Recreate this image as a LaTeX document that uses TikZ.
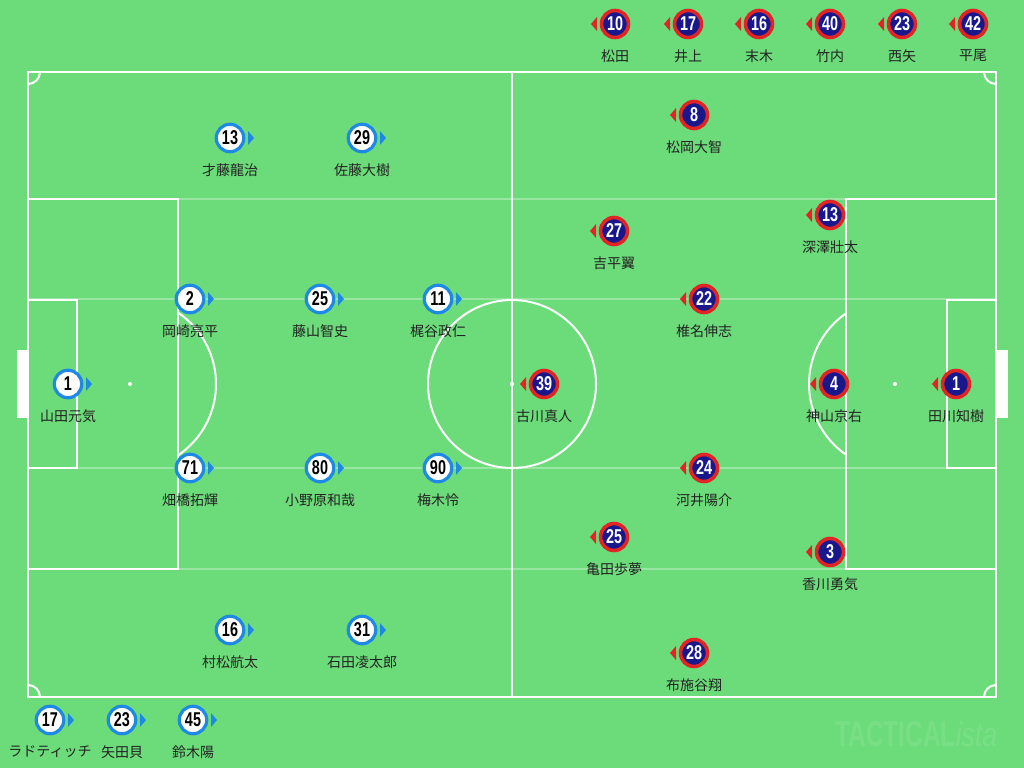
\documentclass[tikz,border=0pt]{standalone}
\usepackage{fontspec}
\usetikzlibrary{calc}
\newfontfamily\jpfont{Noto Sans CJK JP}
\newfontfamily\numfont[FakeStretch=0.72]{Liberation Sans Bold}
\newfontfamily\wmfont[FakeStretch=0.68]{Liberation Sans Bold}
\newfontfamily\wmitfont[FakeStretch=0.78]{Liberation Sans Italic}
\definecolor{grass}{RGB}{108,220,122}
\definecolor{bluec}{RGB}{30,136,229}
\definecolor{navyc}{RGB}{24,24,140}
\definecolor{redc}{RGB}{226,36,36}
\definecolor{lblc}{RGB}{34,34,34}
\tikzset{
  pline/.style={white, line width=2pt},
  lane/.style={white, opacity=0.3, line width=1.5pt},
  bp/.style={circle, fill=white, draw=bluec, line width=3.2pt, minimum size=27.5pt, inner sep=0pt, font=\numfont\fontsize{20}{20}\selectfont, text=black},
  rp/.style={circle, fill=navyc, draw=redc, line width=3.6pt, minimum size=27pt, inner sep=0pt, font=\numfont\fontsize{20}{20}\selectfont, text=white},
  lbl/.style={font=\jpfont\fontsize{14}{14}\selectfont, text=lblc, inner sep=0pt},
}
\newcommand\bpl[5]{%
  \node[bp] (#1) at (#2,#3) {#4};
  \fill[bluec] ($(#1.center)+(18,-7)$) -- ($(#1.center)+(24,0)$) -- ($(#1.center)+(18,7)$) -- cycle;
  \node[lbl] (#1-l) at (#2,#3+32) {#5};}
\newcommand\rpl[5]{%
  \node[rp] (#1) at (#2,#3) {#4};
  \fill[redc] ($(#1.center)+(-18,-7)$) -- ($(#1.center)+(-24,0)$) -- ($(#1.center)+(-18,7)$) -- cycle;
  \node[lbl] (#1-l) at (#2,#3+32) {#5};}
\begin{document}
\begin{tikzpicture}[x=1pt,y=-1pt]
\fill[grass] (0,0) rectangle (1024,768);
\useasboundingbox (0,0) rectangle (1024,768);
% watermark
\node[anchor=base west, inner sep=0pt, text=white, opacity=0.09] (wm) at (835,746) {\wmfont\fontsize{36}{36}\selectfont TACTICAL\wmitfont\fontsize{34}{34}\selectfont ista};
% lanes
\foreach \yy in {199,299,468,569} \draw[lane] (28,\yy) -- (996,\yy);
% pitch
\draw[pline] (28,72) rectangle (996,697);
\draw[pline] (512,72) -- (512,697);
\draw[pline] (512,384) circle (84);
\fill[white] (512,384) circle (2);
\draw[pline] (28,199) rectangle (178,569);
\draw[pline] (28,300) rectangle (77,468);
\draw[pline] (996,199) rectangle (846,569);
\draw[pline] (996,300) rectangle (947,468);
\fill[white] (17,350) rectangle (28,418);
\fill[white] (996,350) rectangle (1008,418);
\fill[white] (130,384) circle (2);
\fill[white] (895,384) circle (2);
\begin{scope}
  \clip (178,0) rectangle (400,768);
  \draw[pline] (130,384) circle (86);
\end{scope}
\begin{scope}
  \clip (846,0) rectangle (600,768);
  \draw[pline] (895,384) circle (86);
\end{scope}
\begin{scope}
  \clip (28,72) rectangle (996,697);
  \draw[pline] (28,72) circle (12);
  \draw[pline] (996,72) circle (12);
  \draw[pline] (28,697) circle (12);
  \draw[pline] (996,697) circle (12);
\end{scope}
% home (blue)
\bpl{b13}{230}{138}{13}{才藤龍治}
\bpl{b29}{362}{138}{29}{佐藤大樹}
\bpl{b2}{190}{299}{2}{岡崎亮平}
\bpl{b25}{320}{299}{25}{藤山智史}
\bpl{b11}{438}{299}{11}{梶谷政仁}
\bpl{b1}{68}{384}{1}{山田元気}
\bpl{b71}{190}{468}{71}{畑橋拓輝}
\bpl{b80}{320}{468}{80}{小野原和哉}
\bpl{b90}{438}{468}{90}{梅木怜}
\bpl{b16}{230}{630}{16}{村松航太}
\bpl{b31}{362}{630}{31}{石田凌太郎}
\bpl{bs17}{50}{720}{17}{ラドティッチ}
\bpl{bs23}{122}{720}{23}{矢田貝}
\bpl{bs45}{193}{720}{45}{鈴木陽}
% away (red)
\rpl{r8}{694}{115}{8}{松岡大智}
\rpl{r27}{614}{231}{27}{吉平翼}
\rpl{r13}{830}{215}{13}{深澤壯太}
\rpl{r22}{704}{299}{22}{椎名伸志}
\rpl{r39}{544}{384}{39}{古川真人}
\rpl{r4}{834}{384}{4}{神山京右}
\rpl{r1}{956}{384}{1}{田川知樹}
\rpl{r24}{704}{468}{24}{河井陽介}
\rpl{r25}{614}{537}{25}{亀田歩夢}
\rpl{r3}{830}{552}{3}{香川勇気}
\rpl{r28}{694}{653}{28}{布施谷翔}
\rpl{rs10}{615}{24}{10}{松田}
\rpl{rs17}{688}{24}{17}{井上}
\rpl{rs16}{759}{24}{16}{末木}
\rpl{rs40}{830}{24}{40}{竹内}
\rpl{rs23}{902}{24}{23}{西矢}
\rpl{rs42}{973}{24}{42}{平尾}
\end{tikzpicture}
\end{document}
